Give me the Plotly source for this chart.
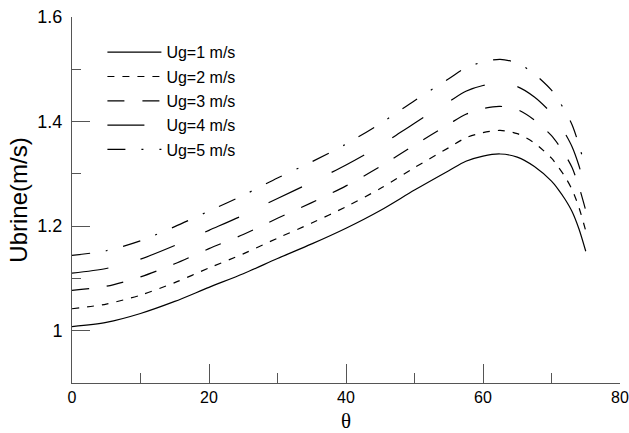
import plotly.graph_objects as go

theta = [0, 5, 10, 15, 20, 25, 30, 35, 40, 45, 50, 55, 57.5, 60, 62.5, 65, 67.5, 70, 71, 72, 73, 74, 75]

ug1 = [1.008, 1.016, 1.033, 1.056, 1.083, 1.109, 1.138, 1.166, 1.196, 1.230, 1.269, 1.306, 1.324,
       1.334, 1.338, 1.332, 1.314, 1.286, 1.270, 1.251, 1.228, 1.195, 1.152]
ug2 = [1.042, 1.051, 1.068, 1.092, 1.120, 1.147, 1.177, 1.206, 1.237, 1.272, 1.312, 1.350, 1.369,
       1.379, 1.383, 1.377, 1.359, 1.330, 1.313, 1.294, 1.270, 1.236, 1.191]
ug3 = [1.077, 1.085, 1.103, 1.128, 1.157, 1.184, 1.215, 1.245, 1.277, 1.314, 1.355, 1.395, 1.414,
       1.425, 1.429, 1.423, 1.403, 1.373, 1.356, 1.336, 1.312, 1.276, 1.230]
ug4 = [1.110, 1.119, 1.137, 1.163, 1.192, 1.221, 1.253, 1.284, 1.317, 1.354, 1.397, 1.438, 1.458,
       1.469, 1.473, 1.467, 1.447, 1.416, 1.398, 1.377, 1.352, 1.316, 1.268]
ug5 = [1.144, 1.153, 1.172, 1.199, 1.229, 1.259, 1.292, 1.323, 1.357, 1.396, 1.440, 1.482, 1.503,
       1.514, 1.519, 1.512, 1.491, 1.460, 1.441, 1.420, 1.394, 1.356, 1.308]

series_names = ["Ug=1 m/s", "Ug=2 m/s", "Ug=3 m/s", "Ug=4 m/s", "Ug=5 m/s"]
series_values = [ug1, ug2, ug3, ug4, ug5]
dashes = ["solid", "7px,8px", "17px,18px", "37px,33px", "18px,16px,2px,16px"]

x_ticks = [0, 20, 40, 60, 80]
y_ticks = [1.0, 1.2, 1.4, 1.6]
y_tick_labels = ["1", "1.2", "1.4", "1.6"]
pad = "\u00a0"

fig = go.Figure()
for i, (name, vals, dash) in enumerate(zip(series_names, series_values, dashes)):
    fig.add_trace(go.Scatter(
        x=theta, y=vals, mode="lines", name=name, legendgroup=f"g{i}",
        line=dict(color="black", width=1.2, dash=dash, shape="spline", smoothing=0.8),
    ))

axis_color = "#555555"
fig.update_layout(
    width=629, height=433,
    margin=dict(l=72, r=9, t=16.5, b=49.5),
    paper_bgcolor="white", plot_bgcolor="white",
    font=dict(family="Liberation Sans, Arial, sans-serif", size=16, color="black"),
    showlegend=True,
    legend=dict(x=0.0555, y=0.950, xanchor="left", yanchor="top",
                bgcolor="rgba(0,0,0,0)", font=dict(size=16),
                itemwidth=54, tracegroupgap=0.5),
    xaxis=dict(range=[0, 80], tickvals=x_ticks, ticks="inside", ticklen=19, tickwidth=1,
               tickcolor=axis_color, showline=True, linecolor=axis_color, linewidth=1,
               showgrid=False, zeroline=False, tickfont=dict(size=16), automargin=False,
               ticklabeloverflow="allow",
               minor=dict(dtick=10, ticks="inside", ticklen=10, tickcolor=axis_color, showgrid=False),
               title=dict(text="θ", font=dict(family="Liberation Serif, Times New Roman, serif", size=21),
                          standoff=8)),
    yaxis=dict(range=[0.9, 1.6], tickvals=y_ticks, ticktext=[t + pad for t in y_tick_labels], ticks="inside",
               ticklen=18, tickwidth=1, tickcolor=axis_color, showline=True, linecolor=axis_color,
               linewidth=1, showgrid=False, zeroline=False, tickfont=dict(size=18), automargin=False,
               ticklabeloverflow="allow",
               minor=dict(tickvals=[1.1, 1.3, 1.5], ticks="inside", ticklen=9, tickcolor=axis_color, showgrid=False),
               title=dict(text="Ubrine(m/s)", font=dict(size=24), standoff=2)),
)

fig.write_html("out.html", config={"displayModeBar": False},
               post_script="document.body.style.margin='0px';document.body.style.overflow='hidden';")
